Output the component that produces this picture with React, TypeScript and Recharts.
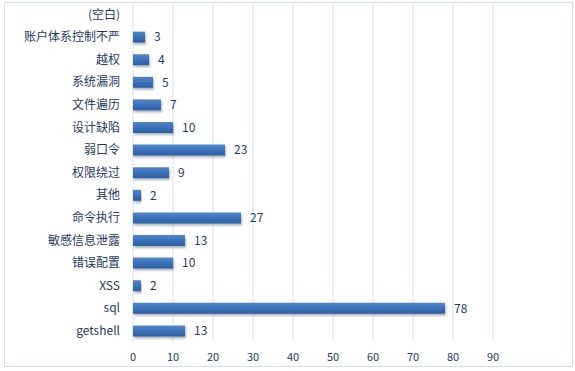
import { BarChart, Bar, XAxis, YAxis, CartesianGrid, LabelList } from 'recharts'

const categories = [
  '(空白)',
  '账户体系控制不严',
  '越权',
  '系统漏洞',
  '文件遍历',
  '设计缺陷',
  '弱口令',
  '权限绕过',
  '其他',
  '命令执行',
  '敏感信息泄露',
  '错误配置',
  'XSS',
  'sql',
  'getshell',
]
const counts: (number | null)[] = [null, 3, 4, 5, 7, 10, 23, 9, 2, 27, 13, 10, 2, 78, 13]
const xTicks = [0, 10, 20, 30, 40, 50, 60, 70, 80, 90]

const data = categories.map((name, i) => ({ name, value: counts[i] }))

const textColor = '#1f3a63'
const font = '"Noto Sans CJK SC", "Liberation Sans", sans-serif'

export default function App() {
  return (
    <div style={{ position: 'relative', width: 575, height: 371, background: '#fff' }}>
      <style>{`body { margin: 0; }`}</style>
      <div
        style={{
          position: 'absolute',
          left: 4,
          top: 2,
          width: 567,
          height: 363,
          border: '1px solid #d5dfec',
        }}
      />
      <BarChart
        layout="vertical"
        width={575}
        height={371}
        data={data}
        margin={{ top: 3, right: 82, left: 0, bottom: 0 }}
        style={{ position: 'absolute', left: 0, top: 0, fontFamily: font }}
      >
        <defs>
          <linearGradient id="barFill" x1="0" y1="0" x2="0" y2="1">
            <stop offset="0%" stopColor="#4f86cf" />
            <stop offset="100%" stopColor="#2a5ea3" />
          </linearGradient>
          <filter id="barShadow" x="-5%" y="-30%" width="115%" height="190%">
            <feDropShadow dx="1" dy="2" stdDeviation="1" floodColor="#000" floodOpacity="0.3" />
          </filter>
        </defs>
        <CartesianGrid horizontal={false} stroke="#d6e1ef" />
        <XAxis
          type="number"
          domain={[0, 90]}
          ticks={xTicks}
          axisLine={false}
          tickLine={false}
          tickSize={0}
          tickMargin={11}
          height={29}
          tick={{ fill: textColor, fontSize: 11 }}
        />
        <YAxis
          type="category"
          dataKey="name"
          width={133}
          axisLine={false}
          tickLine={false}
          tickSize={0}
          tickMargin={13}
          interval={0}
          tick={{ fill: textColor, fontSize: 12 }}
        />
        <Bar
          dataKey="value"
          barSize={11}
          fill="url(#barFill)"
          filter="url(#barShadow)"
          isAnimationActive={false}
        >
          <LabelList dataKey="value" position="right" offset={9} fill={textColor} fontSize={12} />
        </Bar>
      </BarChart>
    </div>
  )
}
